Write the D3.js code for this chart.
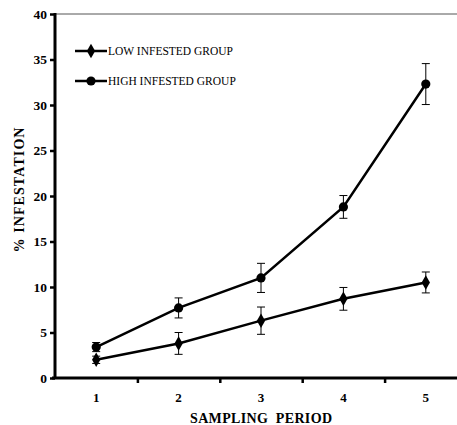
<!DOCTYPE html>
<html><head><meta charset="utf-8">
<script src="https://cdn.jsdelivr.net/npm/d3@7"></script>
<style>body{margin:0;background:#fff}</style>
</head><body>
<svg id="c" width="457" height="425"></svg>
<script>
const periods = [1, 2, 3, 4, 5];
const lowValues = [2.0, 3.8, 6.3, 8.7, 10.5];
const lowErrors = [0.4, 1.2, 1.5, 1.25, 1.15];
const highValues = [3.4, 7.7, 11.0, 18.8, 32.3];
const highErrors = [0.5, 1.1, 1.6, 1.25, 2.25];
const yTicks = [0, 5, 10, 15, 20, 25, 30, 35, 40];
const seriesNames = ["LOW INFESTED GROUP", "HIGH INFESTED GROUP"];

const svg = d3.select("#c");
const x = d3.scaleLinear().domain([0.5, 5.5]).range([55, 467]);
const y = d3.scaleLinear().domain([0, 40]).range([378, 14]);
const serif = "'Liberation Serif','Times New Roman',serif";

// top frame line
svg.append("line").attr("x1", x(0.5)).attr("x2", 457).attr("y1", y(40)).attr("y2", y(40))
  .attr("stroke", "#555").attr("stroke-width", 1);

// y axis
const ya = svg.append("g").attr("transform", `translate(${x(0.5)},0)`)
  .call(d3.axisLeft(y).tickValues(yTicks).tickSize(5).tickPadding(3).tickFormat(d3.format("d")));
ya.select(".domain").attr("stroke-width", 3).attr("d", `M0,${y(40)-1}V${y(0)+1}`);
ya.selectAll(".tick line").attr("stroke-width", 2.5);
ya.selectAll("text").attr("font-family", serif).attr("font-weight", "bold").attr("font-size", 13.5).attr("fill", "#000");

// x axis
const xa = svg.append("g").attr("transform", `translate(0,${y(0)})`)
  .call(d3.axisBottom(x).tickValues([1.5, 2.5, 3.5, 4.5]).tickSize(5).tickFormat(""));
xa.select(".domain").attr("stroke-width", 3).attr("d", `M${x(0.5)-3},0H457`);
xa.selectAll(".tick line").attr("stroke-width", 2.5);
svg.append("g").selectAll("text").data(periods).join("text")
  .attr("x", d => x(d)).attr("y", y(0) + 24).attr("text-anchor", "middle")
  .attr("font-family", serif).attr("font-weight", "bold").attr("font-size", 13).text(d => d);

// axis titles
svg.append("text").attr("x", 261).attr("y", 423).attr("text-anchor", "middle")
  .attr("font-family", serif).attr("font-weight", "bold").attr("font-size", 14)
  .attr("textLength", 142).attr("lengthAdjust", "spacing")
  .text("SAMPLING  PERIOD").attr("xml:space", "preserve");
svg.append("text").attr("transform", "translate(24,190) rotate(-90)").attr("text-anchor", "middle")
  .attr("font-family", serif).attr("font-weight", "bold").attr("font-size", 14)
  .attr("textLength", 125).attr("lengthAdjust", "spacing")
  .text("% INFESTATION");

const line = d3.line().x((d, i) => x(periods[i])).y(d => y(d));
const diamond = d3.symbol().type(d3.symbolDiamond).size(60);

function drawSeries(vals, errs, kind) {
  const g = svg.append("g");
  g.append("path").datum(vals).attr("d", line).attr("fill", "none").attr("stroke", "#000").attr("stroke-width", 2.5);
  const eb = g.selectAll("g.eb").data(vals).join("g");
  eb.append("line").attr("x1", (d, i) => x(periods[i])).attr("x2", (d, i) => x(periods[i]))
    .attr("y1", (d, i) => y(d + errs[i])).attr("y2", (d, i) => y(d - errs[i])).attr("stroke", "#000").attr("stroke-width", 1);
  [1, -1].forEach(s => {
    eb.append("line").attr("x1", (d, i) => x(periods[i]) - 4).attr("x2", (d, i) => x(periods[i]) + 4)
      .attr("y1", (d, i) => y(d + s * errs[i])).attr("y2", (d, i) => y(d + s * errs[i])).attr("stroke", "#000").attr("stroke-width", 1);
  });
  if (kind === "diamond") {
    g.selectAll("path.m").data(vals).join("path").attr("class", "m").attr("d", diamond)
      .attr("transform", (d, i) => `translate(${x(periods[i])},${y(d)})`).attr("fill", "#000");
  } else {
    g.selectAll("circle").data(vals).join("circle").attr("cx", (d, i) => x(periods[i])).attr("cy", d => y(d))
      .attr("r", 4.6).attr("fill", "#000");
  }
}
drawSeries(lowValues, lowErrors, "diamond");
drawSeries(highValues, highErrors, "circle");

// legend
const leg = svg.append("g");
seriesNames.forEach((name, i) => {
  const ly = 51 + i * 30;
  leg.append("line").attr("x1", 75).attr("x2", 107).attr("y1", ly).attr("y2", ly).attr("stroke", "#000").attr("stroke-width", 2.5);
  if (i === 0) leg.append("path").attr("d", diamond).attr("transform", `translate(91,${ly})`).attr("fill", "#000");
  else leg.append("circle").attr("cx", 91).attr("cy", ly).attr("r", 4.6).attr("fill", "#000");
  leg.append("text").attr("x", 108).attr("y", ly + 4).attr("font-family", serif).attr("font-size", 11.5).text(name);
});
</script>
</body></html>
